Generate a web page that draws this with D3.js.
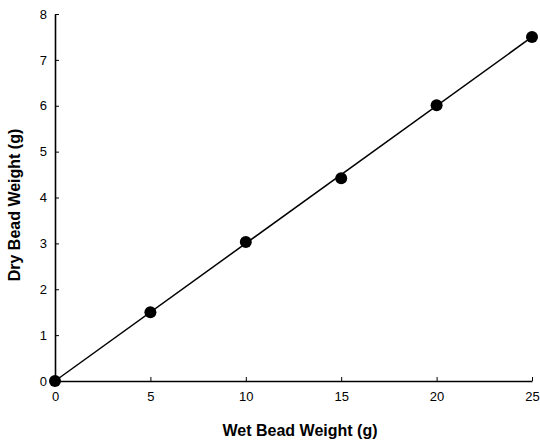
<!DOCTYPE html>
<html><head><meta charset="utf-8">
<script src="https://cdn.jsdelivr.net/npm/d3@7"></script>
<style>body{margin:0;background:#fff}svg{display:block}</style>
</head><body>
<svg id="c" width="540" height="442"></svg>
<script>
const wetWeight = [0, 5, 10, 15, 20, 25];
const dryWeight = [0, 1.5, 3.03, 4.42, 6.01, 7.5];
const fitX = [0, 25];
const fitY = [0, 7.5];
const xTicks = [0, 5, 10, 15, 20, 25];
const yTicks = [0, 1, 2, 3, 4, 5, 6, 7, 8];
const xLabel = "Wet Bead Weight (g)";
const yLabel = "Dry Bead Weight (g)";

const svg = d3.select("#c");
const x = d3.scaleLinear().domain([0, 25]).range([55, 532]);
const y = d3.scaleLinear().domain([0, 8]).range([381, 14]);
const font = "Liberation Sans, Arial, sans-serif";

const xa = svg.append("g").attr("transform", "translate(0,381)")
  .call(d3.axisBottom(x).tickValues(xTicks).tickSizeInner(-4).tickSizeOuter(0).tickPadding(11));
const ya = svg.append("g").attr("transform", "translate(55,0)")
  .call(d3.axisLeft(y).tickValues(yTicks).tickSizeInner(-4).tickSizeOuter(0).tickPadding(8));
[xa, ya].forEach(a => {
  a.select(".domain").attr("stroke", "#000").attr("stroke-width", 1.6);
  a.selectAll(".tick line").attr("stroke", "#000").attr("stroke-width", 1);
  a.selectAll(".tick text").attr("fill", "#000").style("font-family", font).style("font-size", "13px");
});

svg.append("line")
  .attr("x1", x(fitX[0])).attr("y1", y(fitY[0]))
  .attr("x2", x(fitX[1])).attr("y2", y(fitY[1]))
  .attr("stroke", "#000").attr("stroke-width", 1.5);

svg.selectAll("circle.pt").data(wetWeight.map((d, i) => [d, dryWeight[i]]))
  .enter().append("circle").attr("class", "pt")
  .attr("cx", d => x(d[0])).attr("cy", d => y(d[1])).attr("r", 6).attr("fill", "#000");

svg.append("text").attr("x", 300).attr("y", 436).attr("text-anchor", "middle")
  .style("font-family", font).style("font-size", "16px").style("font-weight", "bold").text(xLabel);
svg.append("text").attr("transform", "translate(20,205) rotate(-90)").attr("text-anchor", "middle")
  .style("font-family", font).style("font-size", "16px").style("font-weight", "bold").text(yLabel);
</script>
</body></html>
